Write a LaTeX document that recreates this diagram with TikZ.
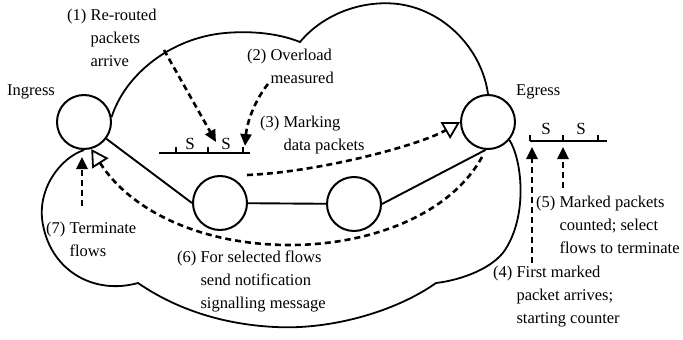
\documentclass[tikz,border=0pt]{standalone}
\usepackage{fontspec}
\setmainfont{Liberation Serif}
\usetikzlibrary{arrows.meta,positioning}
\tikzstyle{router} = [circle, draw, line width=2pt, minimum size=54pt, inner sep=0pt]
\tikzstyle{note} = [anchor=base west, inner sep=0pt, font=\fontsize{16.5}{23}\selectfont]
\tikzstyle{packet} = [anchor=base, inner sep=0pt, font=\fontsize{17}{23}\selectfont]
\tikzstyle{cloud} = [draw, line width=1.8pt]
\tikzstyle{link} = [draw, line width=1.9pt]
\tikzstyle{signal} = [draw, line width=2.6pt, dash pattern=on 6pt off 4pt, -{Triangle[length=12pt,width=11pt]}]
\tikzstyle{notify} = [draw, line width=2.6pt, dash pattern=on 6pt off 4pt, -{Triangle[open,length=17pt,width=19pt,line width=1.8pt,fill=white]}]
\newcommand{\hangnote}[2]{\begin{tabular}[t]{@{}l@{\ }l@{}}#1&\begin{tabular}[t]{@{}l@{}}#2\end{tabular}\end{tabular}}

\begin{document}
\begin{tikzpicture}[x=1pt, y=-1pt]
        \useasboundingbox (0,0) rectangle (683,340);
        \node[router]                 (ingress) at (84,122)  {};
        \node[router]                 (egress)  at (488,122) {};
        \node[router]                 (core1)   at (220,203) {};
        \node[router]                 (core2)   at (354,204) {};

        \node[note]                   (ingname) at (7,95)    {Ingress};
        \node[note]                   (egname)  at (516,95)  {Egress};
        \node[note]                   (note1)   at (67,20)   {\hangnote{(1)}{Re-routed\\packets\\arrive}};
        \node[note]                   (note2)   at (247,60)  {\hangnote{(2)}{Overload\\measured}};
        \node[note]                   (note3)   at (260,127) {\hangnote{(3)}{Marking\\data packets}};
        \node[note]                   (note4)   at (493,277) {\hangnote{(4)}{First marked\\packet arrives;\\starting counter}};
        \node[note]                   (note5)   at (536,207) {\hangnote{(5)}{Marked packets\\counted; select\\flows to terminate}};
        \node[note]                   (note6)   at (177,262) {\hangnote{(6)}{For selected flows\\send notification\\signalling message}};
        \node[note]                   (note7)   at (46,233)  {\hangnote{(7)}{Terminate\\flows}};

        \node[packet]                 (mark1)   at (190,149) {S};
        \node[packet]                 (mark2)   at (226,149) {S};
        \node[packet]                 (count1)  at (546,134) {S};
        \node[packet]                 (count2)  at (581,134) {S};

        \coordinate (rerouted) at (164,50);
        \coordinate (arrived)  at (216,142);
        \coordinate (measured) at (268,84);
        \coordinate (marked)   at (245,146);
        \coordinate (forward)  at (247,175);
        \coordinate (backward) at (482,157);
        \coordinate (first)    at (532,263);
        \coordinate (firsttip) at (532,147);
        \coordinate (counted)  at (563,188);
        \coordinate (counttip) at (563,147);
        \coordinate (stop)     at (82,206);
        \coordinate (stoptip)  at (82,157);

        \draw[cloud] (ingress.10) .. controls (125,75) and (170,38) .. (225,33)
                     .. controls (260,30) and (285,36) .. (300,42)
                     .. controls (325,12) and (365,0) .. (398,4)
                     .. controls (445,10) and (482,50) .. (egress.north);
        \draw[cloud] (egress.-40) .. controls (522,160) and (528,215) .. (505,250)
                     .. controls (493,268) and (462,280) .. (436,283)
                     .. controls (395,312) and (330,330) .. (275,327)
                     .. controls (215,324) and (170,305) .. (138,283)
                     .. controls (95,295) and (52,272) .. (43,225)
                     .. controls (36,190) and (60,158) .. (ingress.south);

        \draw[link] (159,153) -- (250,153);
        \foreach \x in {176,208,243} \draw[link] (\x,153) -- (\x,147);
        \draw[link] (530,141) -- (607,141);
        \foreach \x in {530,563,598} \draw[link] (\x,141) -- (\x,135);

        \path[link]   (ingress)    -- (core1.west);
        \path[link]   (core1)      -- (core2);
        \path[link]   (core2.east) -- (egress.265);

        \path[signal] (rerouted) -- (arrived);
        \path[signal] (measured) .. controls (255,100) and (247,122) .. (marked);
        \path[signal] (first)    -- (firsttip);
        \path[signal] (counted)  -- (counttip);
        \path[signal] (stop)     -- (stoptip);
        \path[notify] (forward)  .. controls (320,172) and (420,145) .. (egress.west);
        \path[notify] (backward) .. controls (450,215) and (370,245) .. (290,245)
                                 .. controls (200,245) and (130,210) .. (ingress.-75);
      \end{tikzpicture}
\end{document}
